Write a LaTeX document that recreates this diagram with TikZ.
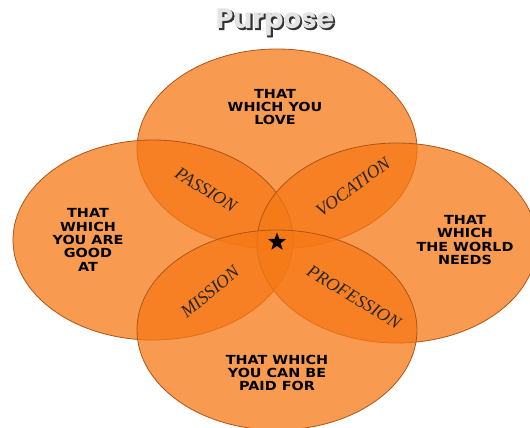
\documentclass[tikz,border=0pt]{standalone}
\usepackage{fontspec}
\setmainfont{Liberation Serif}
\IfFontExistsTF{Liberation Serif Italic}
  {\newfontfamily\labelfont{Liberation Serif Italic}}
  {\newfontfamily\labelfont{Liberation Serif}[FakeSlant=0.22]}
\newfontfamily\capsfont{DejaVu Sans}[FakeStretch=1.15]
\newfontfamily\titlefont{Poppins}
\newfontfamily\titleshadow{Poppins}[BoldFeatures={FakeBold=3}]
\usetikzlibrary{shapes.geometric}
\definecolor{petalfill}{RGB}{245,120,20}
\definecolor{petalline}{RGB}{175,85,25}
\definecolor{titlegray}{RGB}{228,228,228}
\tikzset{
  petal/.style={ellipse,draw=petalline,line width=0.8pt,fill=petalfill,fill opacity=0.75,
    minimum width=280pt,minimum height=200pt,inner sep=0pt},
  circlelabel/.style={font=\capsfont\bfseries\fontsize{12.5}{13.3}\selectfont,align=center,text=black},
  overlaplabel/.style={font=\labelfont\fontsize{18}{18}\selectfont,text=black!85,inner sep=0pt}
}
\begin{document}
\begin{tikzpicture}[x=1pt,y=-1pt]
    \useasboundingbox (0,0) rectangle (530,428);
    % the four circles
    \node[petal] (love) at (277,149) {};
    \node[petal] (good) at (153,240) {};
    \node[petal] (world) at (397,243) {};
    \node[petal] (paid) at (277,330) {};
    % texts of the circles
    \node[circlelabel] (lovetext) at (275,107) {THAT\\WHICH YOU\\LOVE};
    \node[circlelabel] (goodtext) at (88,240) {THAT\\WHICH\\YOU ARE\\GOOD\\AT};
    \node[circlelabel] (worldtext) at (465,240) {THAT\\WHICH\\THE WORLD\\NEEDS};
    \node[circlelabel] (paidtext) at (277,373) {THAT WHICH\\YOU CAN BE\\PAID FOR};
    % overlaps
    \node[overlaplabel,rotate=-32] (passion) at (206,190) {PASSION};
    \node[overlaplabel,rotate=36] (vocation) at (353,187) {VOCATION};
    \node[overlaplabel,rotate=40] (mission) at (210,292) {MISSION};
    \node[overlaplabel,rotate=-31] (profession) at (354,297) {PROFESSION};
    \node[star,star points=5,star point ratio=2.4,fill=black,inner sep=0pt,minimum size=19pt] (purpose) at (277,242) {};
    % title
    \node[font=\titleshadow\bfseries\fontsize{28}{28}\selectfont,text=black!80] (titleback) at (276.5,23.5) {Purpose};
    \node[font=\titlefont\bfseries\fontsize{28}{28}\selectfont,text=titlegray] (title) at (275,22) {Purpose};
\end{tikzpicture}
\end{document}
